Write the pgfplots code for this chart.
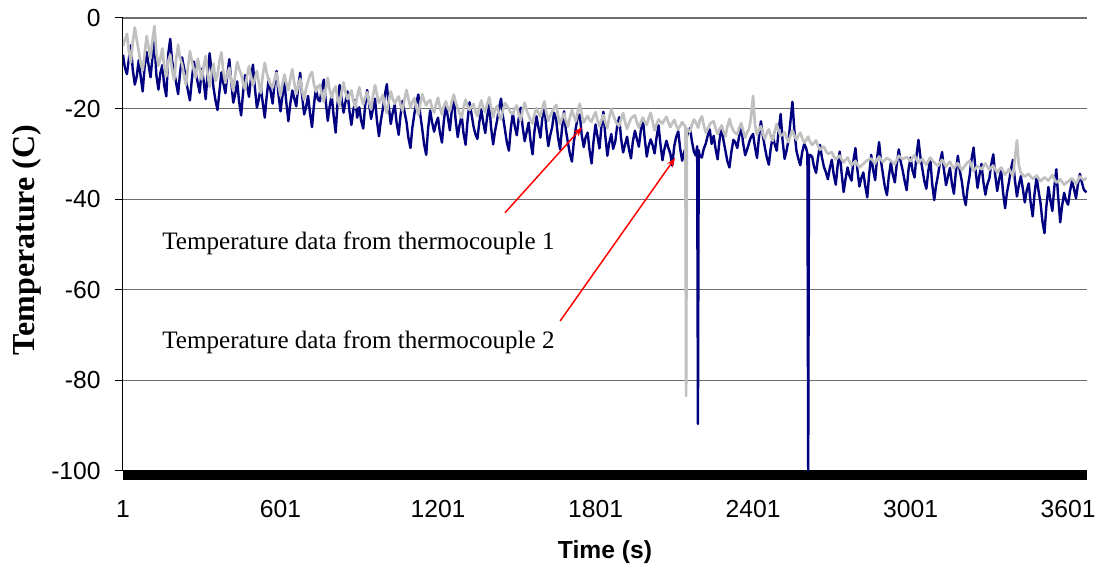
\documentclass[border=0pt]{standalone}
\usepackage{pgfplots}
\pgfplotsset{compat=1.18}
\usepackage{pgfplotstable}
\usepackage{fontspec}
\setmainfont{Liberation Sans}
\newfontfamily\timesfont{Liberation Serif}
\usetikzlibrary{arrows.meta}
\definecolor{tcnavy}{RGB}{0,0,128}
\definecolor{tcgray}{RGB}{192,192,192}
\definecolor{gridc}{RGB}{110,110,110}

\pgfplotstableread{
t a b
1 -6.2 -8.1
8 -4.8 -10.9
16 -3.5 -12.4
23 -7.1 -9.2
31 -9.8 -6.0
38 -5.5 -11.3
46 -2.1 -14.7
53 -4.6 -13.0
61 -7.4 -9.3
68 -9.9 -12.8
76 -11.6 -16.2
83 -8.2 -11.0
91 -4.0 -7.5
98 -6.3 -10.2
106 -8.9 -13.1
113 -5.0 -8.8
121 -1.8 -5.2
128 -7.7 -12.6
136 -10.5 -15.8
143 -9.1 -12.2
151 -6.7 -10.4
158 -10.8 -14.9
166 -12.9 -17.3
173 -9.6 -8.1
181 -8.1 -4.6
188 -11.4 -9.5
196 -13.7 -11.9
203 -9.3 -14.2
211 -5.9 -16.8
218 -8.8 -12.3
226 -10.2 -8.7
233 -12.6 -10.9
241 -14.8 -13.5
248 -11.0 -16.0
256 -7.3 -18.2
263 -9.4 -13.7
271 -11.5 -9.6
278 -13.2 -12.1
286 -9.0 -14.4
293 -11.1 -16.5
301 -13.6 -11.2
308 -10.7 -13.8
316 -8.4 -17.9
323 -12.3 -12.4
331 -15.2 -7.8
338 -12.0 -11.6
346 -10.1 -15.5
353 -13.9 -18.1
361 -12.7 -20.3
368 -9.5 -16.4
376 -7.6 -12.0
383 -11.8 -14.3
391 -14.3 -16.6
398 -12.4 -12.7
406 -11.0 -9.1
413 -13.7 -13.9
421 -16.1 -18.7
428 -12.8 -16.9
436 -9.7 -14.0
443 -11.2 -18.3
451 -12.4 -21.5
458 -14.1 -16.7
466 -15.8 -12.6
473 -13.0 -14.8
481 -10.6 -17.4
488 -12.9 -13.6
496 -14.9 -10.3
503 -13.5 -15.2
511 -11.7 -19.8
518 -14.2 -18.0
526 -16.6 -15.1
533 -12.8 -18.6
541 -9.9 -22.0
548 -12.0 -17.5
556 -13.8 -13.4
563 -14.7 -16.1
571 -15.4 -18.9
578 -13.6 -14.5
586 -12.1 -11.7
593 -14.8 -16.8
601 -17.2 -20.6
608 -14.6 -17.3
616 -12.5 -14.2
623 -14.4 -18.6
631 -15.9 -22.8
638 -13.5 -19.0
646 -11.3 -16.0
653 -14.2 -17.7
661 -16.8 -19.5
668 -15.0 -15.4
676 -13.4 -12.1
683 -16.0 -17.0
691 -18.1 -21.3
698 -15.7 -19.8
706 -14.0 -17.2
713 -12.6 -20.9
721 -11.9 -24.1
728 -14.5 -19.4
736 -16.3 -15.3
743 -15.2 -17.9
751 -14.7 -18.4
758 -16.9 -15.7
766 -18.5 -13.6
773 -15.6 -18.2
781 -13.2 -22.7
788 -15.8 -19.6
796 -17.6 -17.0
803 -16.0 -21.4
811 -15.1 -25.3
818 -17.7 -19.0
826 -19.4 -14.8
833 -16.5 -17.5
841 -14.2 -20.9
848 -16.3 -18.7
856 -17.9 -16.2
863 -17.0 -20.3
871 -16.0 -23.6
878 -18.2 -20.5
886 -19.8 -18.1
893 -17.4 -22.0
901 -15.3 -19.7
908 -17.4 -22.6
916 -19.1 -24.4
923 -17.6 -19.5
931 -16.4 -15.9
938 -18.5 -18.8
946 -20.2 -22.3
953 -17.3 -20.1
961 -14.8 -17.8
968 -16.9 -22.5
976 -18.7 -26.1
983 -18.0 -22.7
991 -17.0 -20.0
998 -19.3 -17.1
1006 -21.0 -14.6
1013 -18.4 -19.3
1021 -16.2 -23.4
1028 -17.8 -21.0
1036 -18.9 -19.2
1043 -18.1 -23.0
1051 -17.3 -25.8
1058 -19.2 -21.5
1066 -20.5 -18.3
1073 -18.0 -20.6
1081 -15.9 -23.0
1088 -17.9 -26.4
1096 -19.8 -28.7
1103 -18.6 -24.3
1111 -17.7 -21.1
1118 -19.6 -18.7
1126 -21.4 -16.9
1133 -18.9 -21.2
1141 -16.8 -24.6
1148 -18.2 -27.9
1156 -19.3 -30.2
1163 -18.5 -24.5
1171 -18.1 -20.4
1178 -19.8 -22.9
1186 -20.9 -25.1
1193 -19.1 -23.3
1201 -17.6 -22.0
1208 -19.7 -25.2
1216 -21.3 -27.5
1223 -19.5 -22.8
1231 -18.4 -19.1
1238 -19.9 -21.7
1246 -20.6 -24.8
1253 -18.5 -20.6
1261 -16.9 -17.4
1268 -18.6 -22.5
1276 -19.9 -26.3
1283 -21.1 -23.6
1291 -22.0 -21.5
1298 -19.8 -25.4
1306 -18.0 -28.0
1313 -19.4 -22.9
1321 -20.3 -18.6
1328 -19.5 -21.0
1336 -19.0 -23.9
1343 -20.6 -25.6
1351 -21.7 -26.7
1358 -19.6 -23.1
1366 -18.2 -20.3
1373 -19.9 -23.0
1381 -20.8 -25.4
1388 -19.0 -21.8
1396 -17.5 -19.0
1403 -19.8 -24.2
1411 -21.9 -27.9
1418 -20.2 -25.0
1426 -19.4 -22.6
1433 -21.3 -20.0
1441 -22.4 -17.8
1448 -20.4 -21.6
1456 -18.8 -24.7
1463 -19.3 -27.4
1471 -20.1 -29.3
1478 -20.9 -24.5
1486 -21.2 -21.0
1493 -20.0 -23.8
1501 -19.3 -25.9
1508 -21.2 -22.4
1516 -22.6 -19.8
1523 -20.4 -23.9
1531 -18.7 -27.2
1538 -20.3 -25.3
1546 -21.5 -23.1
1553 -22.5 -27.0
1561 -23.3 -30.1
1568 -21.4 -25.2
1576 -19.9 -21.7
1583 -20.9 -24.0
1591 -21.8 -26.4
1598 -20.0 -22.2
1606 -18.4 -18.9
1613 -20.8 -24.1
1621 -22.7 -28.3
1628 -21.6 -26.0
1636 -20.6 -24.0
1643 -19.9 -20.9
1651 -19.2 -22.4
1658 -21.5 -26.3
1666 -23.4 -29.0
1673 -22.1 -24.5
1681 -21.1 -20.6
1688 -22.7 -24.8
1696 -24.0 -27.6
1703 -22.0 -29.9
1711 -20.3 -31.7
1718 -21.6 -27.5
1726 -22.8 -24.2
1733 -20.6 -22.0
1741 -18.9 -21.3
1748 -21.2 -25.7
1756 -23.1 -28.5
1763 -22.3 -26.4
1771 -21.6 -25.3
1778 -22.5 -29.2
1786 -22.9 -32.1
1793 -21.7 -27.4
1801 -20.8 -23.5
1808 -22.5 -26.0
1816 -23.9 -28.8
1823 -22.6 -24.1
1831 -21.4 -20.7
1838 -23.0 -25.9
1846 -24.3 -30.4
1853 -22.0 -27.6
1861 -20.1 -25.6
1868 -21.4 -28.9
1876 -22.6 -27.3
1883 -23.4 -24.0
1891 -23.8 -21.9
1898 -22.3 -26.5
1906 -21.0 -29.7
1913 -22.9 -28.0
1921 -24.5 -26.2
1928 -23.3 -28.9
1936 -22.2 -31.0
1943 -21.8 -27.3
1951 -21.5 -24.9
1958 -23.0 -26.6
1966 -24.2 -28.4
1973 -23.1 -25.0
1981 -22.0 -22.1
1988 -22.9 -26.4
1996 -23.6 -30.6
2003 -22.2 -28.3
2011 -20.9 -26.8
2018 -22.8 -28.0
2026 -24.8 -29.9
2033 -23.5 -26.5
2041 -22.4 -23.7
2048 -22.9 -27.8
2056 -23.3 -31.4
2063 -22.5 -29.0
2071 -21.8 -27.1
2078 -23.0 -28.6
2086 -24.1 -30.0
2093 -23.2 -32.6
2101 -22.5 -28.2
2108 -23.7 -26.3
2116 -24.6 -25.0
2123 -23.8 -28.7
2131 -23.0 -31.5
2138 -23.6 -29.8
2143 -23.9 -28.9
2146 -83.4 -27.4
2149 -24.4 -26.1
2153 -24.8 -25.3
2161 -25.1 -24.3
2168 -23.6 -27.2
2176 -22.4 -29.6
2183 -23.1 -30.4
2188 -23.6 -28.3
2191 -24.2 -89.6
2194 -23.9 -29.2
2198 -22.6 -30.5
2206 -21.7 -30.8
2213 -23.6 -28.9
2221 -25.3 -27.7
2228 -24.5 -26.0
2236 -23.5 -24.6
2243 -23.0 -27.8
2251 -22.8 -26.0
2258 -24.3 -28.8
2266 -25.6 -31.2
2273 -24.6 -27.1
2281 -23.7 -23.8
2288 -25.0 -26.9
2296 -26.1 -29.4
2303 -24.0 -31.6
2311 -22.3 -33.0
2318 -23.8 -29.7
2326 -24.9 -26.9
2333 -25.4 -27.4
2341 -25.7 -28.7
2348 -24.3 -26.0
2356 -23.2 -24.1
2363 -24.9 -27.6
2371 -26.4 -30.3
2378 -25.3 -29.1
2386 -24.4 -27.5
2393 -22.0 -26.3
2401 -17.2 -25.6
2408 -23.5 -28.4
2416 -25.8 -30.9
2423 -24.7 -26.5
2431 -23.9 -22.8
2438 -25.5 -25.9
2446 -26.7 -28.6
2453 -25.4 -30.7
2461 -24.6 -32.4
2468 -26.0 -28.9
2476 -27.1 -26.1
2483 -25.1 -27.8
2491 -23.4 -29.3
2498 -24.8 -25.0
2506 -26.0 -21.2
2513 -25.8 -26.8
2521 -25.2 -31.1
2528 -26.4 -29.4
2536 -27.4 -27.0
2543 -26.0 -23.0
2551 -24.8 -18.5
2558 -25.9 -24.6
2566 -26.9 -29.2
2573 -26.0 -31.0
2581 -25.3 -32.5
2588 -26.5 -29.6
2596 -27.5 -27.8
2603 -27.0 -28.7
2608 -26.5 -29.9
2611 -26.2 -100
2614 -26.8 -31.0
2618 -27.3 -30.2
2626 -28.0 -30.6
2633 -27.6 -32.8
2641 -27.0 -34.2
2648 -28.2 -31.0
2656 -29.1 -28.0
2663 -28.7 -30.7
2671 -28.4 -32.9
2678 -29.3 -34.0
2686 -30.0 -35.6
2693 -29.8 -33.2
2701 -29.6 -31.3
2708 -30.5 -34.5
2716 -31.2 -36.8
2723 -30.8 -32.7
2731 -30.4 -29.5
2738 -31.2 -34.1
2746 -31.9 -38.4
2753 -31.3 -35.6
2761 -30.8 -33.0
2768 -31.7 -34.8
2776 -32.5 -35.9
2783 -32.0 -31.6
2791 -31.6 -28.7
2798 -32.3 -33.3
2806 -33.0 -37.2
2813 -32.6 -35.4
2821 -32.2 -34.1
2828 -31.8 -37.0
2836 -31.4 -39.6
2843 -31.2 -34.6
2851 -31.0 -30.2
2858 -31.6 -33.4
2866 -32.1 -35.8
2873 -31.3 -31.1
2881 -30.6 -27.4
2888 -31.2 -31.5
2896 -31.8 -34.6
2903 -31.3 -37.3
2911 -30.9 -39.1
2918 -31.2 -35.0
2926 -31.5 -31.9
2933 -31.9 -34.5
2941 -32.3 -36.3
2948 -31.3 -32.4
2956 -30.4 -29.0
2963 -30.8 -31.6
2971 -31.2 -33.7
2978 -30.9 -35.9
2986 -30.7 -38.0
2993 -31.1 -33.5
3001 -31.6 -30.8
3008 -30.9 -33.6
3016 -30.3 -35.2
3023 -31.2 -30.6
3031 -32.0 -26.9
3038 -31.5 -30.5
3046 -31.1 -33.4
3053 -31.8 -35.9
3061 -32.4 -37.7
3068 -31.6 -34.0
3076 -30.8 -31.0
3083 -31.4 -36.5
3091 -31.9 -40.2
3098 -32.3 -37.0
3106 -32.6 -34.5
3113 -31.9 -31.8
3121 -31.3 -29.6
3128 -32.0 -33.5
3136 -32.8 -36.9
3143 -32.2 -35.1
3151 -31.7 -33.1
3158 -32.5 -36.4
3166 -33.2 -38.8
3173 -32.6 -34.2
3181 -32.0 -30.4
3188 -32.8 -33.6
3196 -33.6 -36.0
3203 -33.0 -39.2
3211 -32.4 -41.3
3218 -31.9 -37.6
3226 -31.5 -34.7
3233 -32.7 -31.2
3241 -33.8 -28.6
3248 -33.2 -33.3
3256 -32.7 -37.5
3263 -33.0 -34.8
3271 -33.4 -32.2
3278 -32.8 -36.1
3286 -32.1 -39.0
3293 -32.8 -36.8
3301 -33.5 -35.4
3308 -33.0 -32.4
3316 -32.6 -30.1
3323 -33.4 -34.5
3331 -34.1 -38.2
3338 -33.5 -35.7
3346 -33.0 -33.6
3353 -33.8 -38.4
3361 -34.6 -42.0
3368 -34.0 -38.6
3376 -33.3 -36.1
3383 -34.1 -33.4
3391 -34.9 -31.3
3398 -31.2 -35.6
3406 -27.0 -39.4
3413 -32.5 -37.0
3421 -34.2 -34.9
3428 -34.6 -37.5
3436 -35.0 -40.7
3443 -34.7 -38.2
3451 -34.4 -36.5
3458 -35.0 -40.6
3466 -35.5 -43.8
3473 -35.2 -38.9
3481 -34.8 -35.0
3488 -35.4 -38.0
3496 -36.0 -40.9
3503 -35.6 -44.8
3511 -35.2 -47.5
3518 -35.5 -41.7
3526 -35.9 -37.3
3533 -35.3 -40.1
3541 -34.7 -42.6
3548 -35.5 -37.6
3556 -36.3 -33.4
3563 -36.0 -39.4
3571 -35.6 -45.1
3578 -36.2 -41.5
3586 -36.8 -38.6
3593 -36.4 -40.3
3601 -36.1 -41.2
3608 -35.7 -38.3
3616 -35.4 -36.0
3623 -36.0 -37.6
3631 -36.6 -39.8
3638 -35.8 -36.9
3646 -35.0 -34.4
3653 -35.4 -36.2
3661 -35.8 -37.9
3671 -35.3 -38.5
}\tcdata

\begin{document}
\begin{tikzpicture}
\useasboundingbox (-92.25pt,-76.5pt) rectangle (739.5pt,353.25pt);
\begin{axis}[
  at={(0pt,0pt)}, anchor=south west,
  scale only axis,
  width=723pt, height=339.75pt,
  xmin=1, xmax=3673, ymin=-100, ymax=0,
  axis lines*=left,
  axis line style={black, line width=0.75pt},
  xtick={1,601,1201,1801,2401,3001,3601},
  xticklabels={1,601,1201,1801,2401,3001,3601},
  ytick={-100,-80,-60,-40,-20,0},
  yticklabels={-100,-80,-60,-40,-20,0},
  xtick style={draw=none},
  ytick style={black, line width=0.75pt},
  tick align=outside,
  major tick length=6pt,
  ymajorgrids,
  grid style={gridc, line width=0.9pt},
  ticklabel style={font=\fontsize{18.5}{20}\selectfont},
  xticklabel style={anchor=north, yshift=-12.5pt},
  yticklabel style={anchor=east, xshift=-7.25pt},
  xlabel={\bfseries Time (s)},
  xlabel style={at={(axis description cs:0.5,-0.1788)}, anchor=center, font=\fontsize{18.5}{20}\selectfont},
  ylabel={\timesfont\bfseries Temperature (C)},
  ylabel style={at={(axis description cs:-0.0996,0.51)}, anchor=center, font=\fontsize{24}{26}\selectfont},
  clip mode=individual,
]
\addplot[tcnavy, line width=1.8pt, line join=round] table[x=t, y=b] {\tcdata};
\addplot[tcgray, line width=2.0pt, line join=round] table[x=t, y=a] {\tcdata};
\fill[black] (axis cs:1,-100) rectangle ([yshift=-6.75pt]axis cs:3673,-100);
\node[anchor=west, inner sep=0pt, font=\timesfont\fontsize{18.8}{20}\selectfont] at (axis cs:150,-49.7) {Temperature data from thermocouple 1};
\node[anchor=west, inner sep=0pt, font=\timesfont\fontsize{18.8}{20}\selectfont] at (axis cs:150,-71.5) {Temperature data from thermocouple 2};
\draw[red, line width=1.1pt, -{Stealth[length=7pt,width=5pt]}] (axis cs:1456,-43.0) -- (axis cs:1750,-24.1);
\draw[red, line width=1.1pt, -{Stealth[length=7pt,width=5pt]}] (axis cs:1666,-66.9) -- (axis cs:2104,-30.9);
\end{axis}
\end{tikzpicture}
\end{document}
